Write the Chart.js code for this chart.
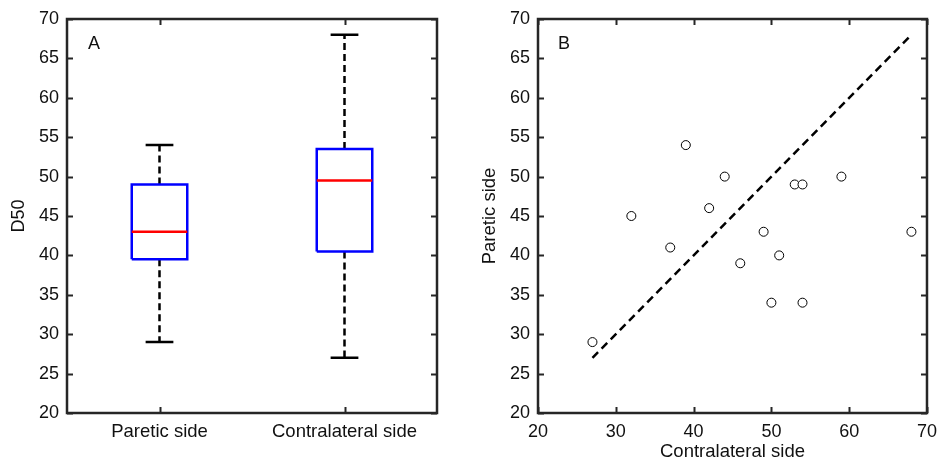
<!DOCTYPE html>
<html>
<head>
<meta charset="utf-8">
<script src="https://cdn.jsdelivr.net/npm/chart.js@4/dist/chart.umd.min.js"></script>
<style>
  html, body { margin: 0; padding: 0; background: #ffffff; }
  #wrap { position: relative; width: 937px; height: 463px; overflow: hidden; }
  #cA { position: absolute; left: 0; top: 0; }
  #cB { position: absolute; left: 470px; top: 0; }
</style>
</head>
<body>
<div id="wrap">
  <canvas id="cA" width="470" height="463"></canvas>
  <canvas id="cB" width="467" height="463"></canvas>
</div>
<script>
// ---- Data ----
const categories = ['Paretic side', 'Contralateral side'];
const boxMin    = [29, 27];
const boxQ1     = [39.5, 40.5];
const boxMedian = [43, 49.5];
const boxQ3     = [49, 53.5];
const boxMax    = [54, 68];

// Panel B: each subject (contralateral D50, paretic D50)
const contralateralSide = [27, 32, 37, 39, 42, 44, 46, 49, 50, 51, 53, 54, 54, 59, 68];
const pareticSide       = [29, 45, 41, 54, 46, 50, 39, 43, 34, 40, 49, 49, 34, 50, 43];
const identityLine      = [27, 68];

const yTicks  = [20, 25, 30, 35, 40, 45, 50, 55, 60, 65, 70];
const xTicksB = [20, 30, 40, 50, 60, 70];

// ---- Styling ----
const FONT = "'Liberation Sans', Arial, Helvetica, sans-serif";
const TXT = '#111111';
const FRAME = '#262626';
const BOX_HALF = 0.15;
const CAP_HALF = 0.075;
const TICK_SIZE = 18;
const TITLE_SIZE = 18.5;

Chart.defaults.font.family = FONT;
Chart.defaults.color = TXT;

function framePlugin(label, labelDx) {
  return {
    id: 'frame' + label,
    afterDraw(chart) {
      const { ctx, chartArea: { left, right, top, bottom }, scales: { x, y } } = chart;
      ctx.save();
      ctx.strokeStyle = FRAME;
      ctx.lineWidth = 2;
      ctx.lineCap = 'butt';
      ctx.beginPath();
      x.ticks.forEach(t => {
        const px = Math.round(x.getPixelForValue(t.value)) + 0.5;
        ctx.moveTo(px, bottom); ctx.lineTo(px, bottom - 6);
        ctx.moveTo(px, top); ctx.lineTo(px, top + 6);
      });
      y.ticks.forEach(t => {
        const py = Math.round(y.getPixelForValue(t.value)) + 0.5;
        ctx.moveTo(left, py); ctx.lineTo(left + 6, py);
        ctx.moveTo(right, py); ctx.lineTo(right - 6, py);
      });
      ctx.stroke();
      ctx.lineWidth = 2.5;
      ctx.strokeRect(left, top, right - left, bottom - top);
      ctx.fillStyle = TXT;
      ctx.font = TICK_SIZE + 'px ' + FONT;
      ctx.textAlign = 'center';
      ctx.textBaseline = 'middle';
      ctx.fillText(label, left + labelDx, top + 25);
      ctx.restore();
    }
  };
}

function lineDs(data, color, width, dash, order) {
  return {
    type: 'line', data, borderColor: color, borderWidth: width, borderDash: dash || [],
    pointRadius: 0, pointHoverRadius: 0, fill: false, spanGaps: false, tension: 0,
    borderCapStyle: 'butt', borderJoinStyle: 'miter', order
  };
}

// ---- Panel A: box plot ----
const boxPts = [], medPts = [], whiskPts = [], capPts = [];
categories.forEach((c, i) => {
  const p = i + 1;
  boxPts.push({ x: p - BOX_HALF, y: boxQ1[i] }, { x: p + BOX_HALF, y: boxQ1[i] },
              { x: p + BOX_HALF, y: boxQ3[i] }, { x: p - BOX_HALF, y: boxQ3[i] },
              { x: p - BOX_HALF, y: boxQ1[i] }, { x: p, y: null });
  medPts.push({ x: p - BOX_HALF, y: boxMedian[i] }, { x: p + BOX_HALF, y: boxMedian[i] }, { x: p, y: null });
  whiskPts.push({ x: p, y: boxQ3[i] }, { x: p, y: boxMax[i] }, { x: p, y: null },
                { x: p, y: boxQ1[i] }, { x: p, y: boxMin[i] }, { x: p, y: null });
  capPts.push({ x: p - CAP_HALF, y: boxMax[i] }, { x: p + CAP_HALF, y: boxMax[i] }, { x: p, y: null },
              { x: p - CAP_HALF, y: boxMin[i] }, { x: p + CAP_HALF, y: boxMin[i] }, { x: p, y: null });
});

new Chart(document.getElementById('cA'), {
  type: 'scatter',
  data: {
    datasets: [
      lineDs(medPts, '#ff0000', 2.5, null, 0),
      lineDs(boxPts, '#0000ff', 2.5, null, 1),
      lineDs(capPts, '#000000', 2.5, null, 2),
      lineDs(whiskPts, '#000000', 2.5, [7, 4], 3)
    ]
  },
  options: {
    responsive: false, animation: false, devicePixelRatio: 1,
    layout: { padding: { top: 19, right: 33, left: 0, bottom: 0 } },
    plugins: { legend: { display: false }, tooltip: { enabled: false } },
    scales: {
      x: {
        type: 'linear', min: 0.5, max: 2.5,
        afterBuildTicks: s => { s.ticks = categories.map((c, i) => ({ value: i + 1 })); },
        afterFit: s => { s.height = 50; },
        ticks: { callback: v => categories[v - 1], font: { size: TITLE_SIZE }, color: TXT, padding: 0, maxRotation: 0 },
        grid: { display: false, drawTicks: true, tickLength: 8 }, border: { display: false }
      },
      y: {
        type: 'linear', min: 20, max: 70,
        afterBuildTicks: s => { s.ticks = yTicks.map(v => ({ value: v })); },
        afterFit: s => { s.width = 67; },
        ticks: { font: { size: TICK_SIZE }, color: TXT, padding: 0 },
        title: { display: true, text: 'D50', font: { size: TICK_SIZE }, color: TXT, padding: { top: 8, bottom: 0 } },
        grid: { display: false, drawTicks: true, tickLength: 8 }, border: { display: false }
      }
    }
  },
  plugins: [framePlugin('A', 27)]
});

// ---- Panel B: scatter ----
new Chart(document.getElementById('cB'), {
  type: 'scatter',
  data: {
    datasets: [
      {
        data: contralateralSide.map((v, i) => ({ x: v, y: pareticSide[i] })),
        pointRadius: 4.5, pointHoverRadius: 4.5, pointBorderWidth: 1,
        pointBackgroundColor: '#ffffff', pointBorderColor: '#000000', showLine: false, order: 0
      },
      lineDs(identityLine.map(v => ({ x: v, y: v })), '#000000', 2.5, [8, 5], 1)
    ]
  },
  options: {
    responsive: false, animation: false, devicePixelRatio: 1,
    layout: { padding: { top: 19, right: 10, left: 0, bottom: 0 } },
    plugins: { legend: { display: false }, tooltip: { enabled: false } },
    scales: {
      x: {
        type: 'linear', min: 20, max: 70,
        afterBuildTicks: s => { s.ticks = xTicksB.map(v => ({ value: v })); },
        afterFit: s => { s.height = 50; },
        ticks: { font: { size: TICK_SIZE }, color: TXT, padding: 0, maxRotation: 0 },
        title: { display: true, text: 'Contralateral side', font: { size: TITLE_SIZE }, color: TXT, padding: { top: 0, bottom: 0 } },
        grid: { display: false, drawTicks: true, tickLength: 8 }, border: { display: false }
      },
      y: {
        type: 'linear', min: 20, max: 70,
        afterBuildTicks: s => { s.ticks = yTicks.map(v => ({ value: v })); },
        afterFit: s => { s.width = 68; },
        ticks: { font: { size: TICK_SIZE }, color: TXT, padding: 0 },
        title: { display: true, text: 'Paretic side', font: { size: TITLE_SIZE }, color: TXT, padding: { top: 9, bottom: 0 } },
        grid: { display: false, drawTicks: true, tickLength: 8 }, border: { display: false }
      }
    }
  },
  plugins: [framePlugin('B', 26)]
});
</script>
</body>
</html>
